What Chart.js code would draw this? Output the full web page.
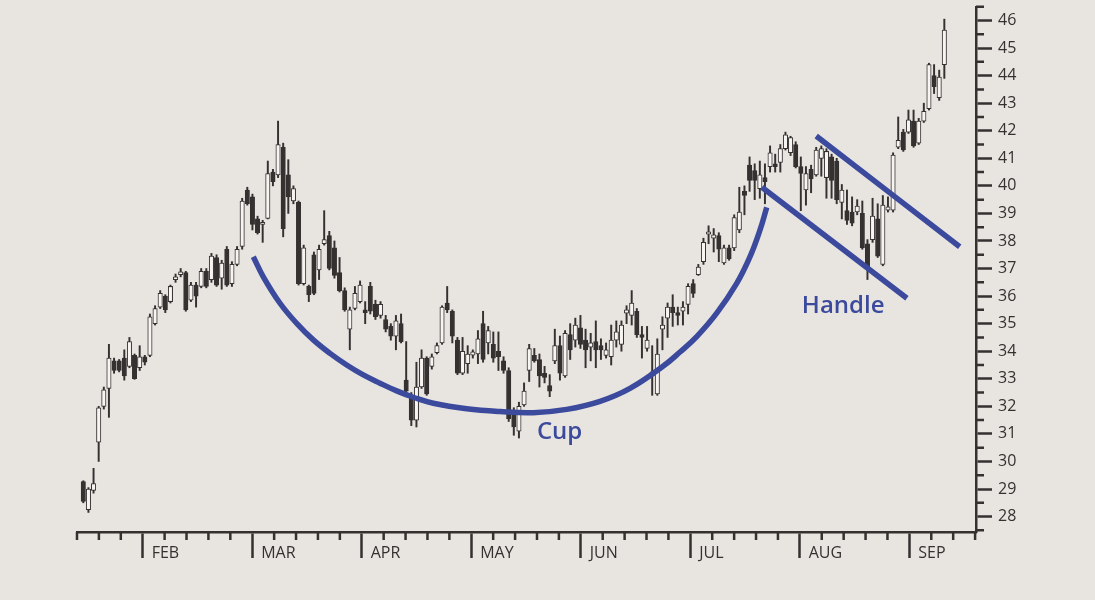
<!DOCTYPE html>
<html>
<head>
<meta charset="utf-8">
<title>Cup and Handle</title>
<script src="https://cdn.jsdelivr.net/npm/chart.js@4.4.1/dist/chart.umd.min.js"></script>
<style>
  html, body { margin: 0; padding: 0; background: #e8e4e0; }
  #wrap { position: relative; width: 1095px; height: 600px; }
</style>
</head>
<body>
<div id="wrap"><canvas id="chart"></canvas></div>
<script>
// daily sessions, index 0 = first candle on the chart
const opens = [
  29.27, 28.25, 28.95, 30.7, 32.0, 32.65, 33.65, 33.65, 33.75, 33.45,
  33.85, 33.4, 33.8, 33.85, 35.0, 35.6, 36.0, 35.8, 36.6, 36.78,
  36.85, 35.85, 36.4, 36.35, 36.9, 36.6, 37.4, 36.65, 37.7, 36.45,
  37.15, 37.8, 39.85, 39.6, 38.8, 38.6, 38.82, 40.5, 40.4, 41.4,
  40.4, 39.45, 39.4, 36.45, 36.35, 37.5, 36.95, 37.9, 38.2, 37.75,
  36.85, 36.2, 34.8, 35.55, 35.8, 35.5, 36.35, 35.7, 35.3, 35.15,
  34.9, 34.55, 35.0, 32.95, 32.35, 31.5, 32.7, 33.75, 33.45, 33.95,
  34.3, 35.75, 35.45, 34.4, 33.2, 33.55, 33.86, 33.9, 35.0, 34.3,
  34.25, 34.0, 33.65, 33.3, 31.8, 31.1, 32.05, 33.3, 33.85, 33.7,
  33.2, 32.75, 33.65, 34.2, 33.1, 34.6, 34.4, 34.85, 34.4, 34.15,
  34.35, 34.2, 33.85, 33.8, 34.4, 34.25, 35.38, 35.3, 35.45, 34.6,
  34.1, 33.25, 32.45, 34.8, 35.2, 35.6, 35.4, 35.45, 35.7, 36.45,
  36.78, 37.25, 38.25, 38.1, 38.2, 37.2, 37.75, 37.75, 38.4, 39.8,
  40.75, 40.55, 39.9, 40.3, 40.7, 40.8, 40.85, 41.35, 41.2, 41.5,
  40.7, 39.85, 40.6, 40.4, 41.0, 40.3, 41.05, 40.9, 39.4, 39.1,
  39.05, 39.05, 39.0, 37.9, 38.05, 38.8, 37.15, 39.12, 39.12, 41.4,
  41.95, 41.95, 42.35, 41.55, 42.35, 42.8, 44.0, 43.2, 44.4
];
const highs = [
  29.3, 29.05, 29.75, 32.0, 32.7, 34.25, 33.75, 33.7, 34.05, 34.5,
  33.9, 34.2, 33.85, 35.35, 35.65, 36.2, 36.05, 36.4, 36.8, 37.0,
  36.9, 36.5, 36.5, 37.0, 37.0, 37.55, 37.5, 37.3, 37.8, 37.25,
  37.8, 39.55, 39.95, 39.7, 38.9, 38.75, 40.9, 40.6, 42.35, 41.55,
  40.95, 40.0, 39.45, 37.85, 36.4, 37.6, 37.85, 39.1, 38.35, 38.0,
  37.4, 36.3, 35.6, 36.35, 36.55, 35.8, 36.5, 35.85, 35.8, 35.3,
  35.0, 35.3, 35.35, 34.35, 32.5, 33.6, 34.05, 33.8, 33.9, 34.3,
  35.65, 36.35, 35.5, 34.5, 34.5, 34.2, 34.05, 34.75, 35.45, 34.9,
  34.7, 34.7, 33.8, 33.4, 31.95, 32.15, 32.85, 34.25, 34.1, 33.9,
  33.45, 33.15, 34.8, 34.55, 34.75, 35.0, 35.2, 35.3, 34.8, 34.65,
  35.1, 34.45, 34.3, 34.95, 35.1, 35.1, 35.65, 36.2, 35.55, 34.9,
  34.9, 34.2, 34.45, 35.25, 35.75, 36.05, 35.6, 35.8, 36.45, 36.6,
  37.15, 38.1, 38.55, 38.45, 38.3, 37.85, 37.85, 38.95, 39.95, 40.0,
  41.05, 40.8, 40.9, 40.8, 41.45, 41.15, 41.5, 41.95, 41.8, 41.6,
  41.05, 40.7, 40.75, 41.4, 41.45, 41.35, 41.15, 41.0, 40.05, 39.85,
  39.6, 39.5, 39.45, 38.05, 39.55, 39.35, 39.65, 39.6, 41.2, 42.5,
  42.05, 42.75, 42.75, 42.45, 43.0, 44.45, 44.4, 44.2, 46.05
];
const lows = [
  28.5, 28.15, 28.85, 30.0, 31.9, 31.6, 33.2, 33.25, 32.95, 33.4,
  32.98, 33.3, 33.5, 33.8, 34.95, 35.55, 35.4, 35.75, 36.5, 36.7,
  35.45, 35.8, 35.6, 36.3, 36.3, 36.5, 36.35, 36.25, 36.35, 36.35,
  37.1, 37.7, 39.3, 38.4, 38.25, 37.95, 38.8, 40.0, 40.3, 38.15,
  39.0, 39.35, 36.4, 36.4, 35.8, 36.05, 36.6, 37.85, 36.95, 36.65,
  36.15, 35.45, 34.05, 35.5, 35.75, 35.0, 35.35, 35.15, 35.2, 34.7,
  34.4, 34.05, 34.3, 32.45, 31.3, 31.25, 32.65, 32.4, 33.35, 33.9,
  34.25, 35.4, 34.3, 33.15, 33.15, 33.2, 33.75, 33.55, 33.6, 33.9,
  33.6, 33.3, 33.2, 31.45, 30.95, 30.85, 32.0, 32.9, 33.6, 32.7,
  32.85, 32.35, 33.55, 32.95, 33.05, 33.7, 34.15, 34.1, 33.4, 33.65,
  33.4, 33.7, 33.75, 33.5, 34.15, 34.0, 35.0, 34.95, 34.5, 33.75,
  34.0, 32.4, 32.4, 34.05, 34.5, 34.9, 34.95, 34.95, 35.35, 35.95,
  36.75, 37.15, 37.9, 37.6, 37.25, 37.15, 37.3, 37.65, 38.3, 38.95,
  39.8, 39.5, 39.55, 39.35, 40.5, 40.5, 40.5, 41.3, 41.1, 40.65,
  39.1, 39.3, 39.75, 40.35, 40.35, 39.55, 39.55, 39.35, 38.8, 38.6,
  38.55, 38.95, 37.7, 36.6, 37.95, 37.4, 37.1, 39.05, 39.05, 41.35,
  41.25, 41.9, 41.4, 41.5, 42.3, 42.75, 43.35, 43.1, 43.9
];
const closes = [
  28.55, 29.0, 29.2, 31.95, 32.6, 33.75, 33.3, 33.3, 33.1, 34.35,
  33.0, 33.8, 33.6, 35.25, 35.55, 36.1, 35.5, 36.35, 36.7, 36.88,
  35.5, 36.4, 36.0, 36.9, 36.35, 37.45, 36.4, 37.2, 36.4, 37.15,
  37.7, 39.45, 39.35, 38.6, 38.3, 38.65, 40.45, 40.15, 41.5, 38.45,
  39.6, 39.9, 36.45, 37.75, 36.05, 36.1, 37.7, 38.05, 37.0, 36.75,
  36.2, 35.5, 35.5, 36.1, 36.4, 35.4, 35.45, 35.25, 35.7, 34.8,
  34.55, 35.1, 34.35, 32.55, 31.5, 32.7, 33.75, 32.45, 33.8, 34.2,
  35.6, 35.5, 34.55, 33.2, 34.0, 33.9, 33.98, 34.45, 33.7, 34.75,
  33.75, 33.8, 33.3, 31.55, 31.25, 32.0, 32.55, 34.1, 33.65, 33.1,
  33.05, 32.55, 34.2, 33.2, 34.65, 34.05, 34.95, 34.25, 34.05, 34.3,
  34.05, 34.05, 34.05, 34.4, 34.7, 34.95, 35.5, 35.75, 34.6, 34.5,
  34.4, 33.1, 33.9, 34.95, 35.6, 35.4, 35.3, 35.6, 36.35, 36.1,
  37.05, 37.95, 38.33, 38.22, 37.7, 37.75, 37.35, 38.85, 39.05, 39.65,
  40.2, 40.2, 40.4, 40.15, 41.2, 40.7, 41.35, 41.85, 41.75, 40.7,
  40.45, 40.45, 40.25, 41.3, 41.35, 41.25, 40.2, 39.5, 39.85, 38.75,
  38.65, 39.27, 37.75, 37.0, 38.9, 37.45, 39.3, 39.24, 41.12, 41.65,
  41.3, 42.4, 41.45, 42.35, 42.7, 44.4, 43.6, 43.95, 45.65
];

// x axis: month labels and the session index where each month starts
const months = ['FEB', 'MAR', 'APR', 'MAY', 'JUN', 'JUL', 'AUG', 'SEP'];
const monthStart = [11.59, 32.96, 54.32, 75.69, 97.06, 118.42, 139.79, 161.15];
const priceTicks = [28, 29, 30, 31, 32, 33, 34, 35, 36, 37, 38, 39, 40, 41, 42, 43, 44, 45, 46];

// pattern outlines (session index, price)
const cupX = [
  33.17, 35.12, 38.38, 41.64, 44.88, 48.14, 51.39, 54.63, 57.89, 61.15, 64.39, 68.29, 74.81,
  81.31, 87.8, 94.32, 100.82, 106.67, 113.17, 116.43, 119.69, 123.59, 127.49, 130.09, 132.04, 133.35
];
const cupY = [
  37.43, 36.7, 35.74, 35.01, 34.41, 33.92, 33.5, 33.14, 32.84, 32.56, 32.33, 32.11, 31.91,
  31.81, 31.77, 31.89, 32.18, 32.65, 33.46, 33.97, 34.53, 35.38, 36.46, 37.43, 38.4, 39.22
];
const handleTopX = [143.0, 171.0];
const handleTopY = [41.81, 37.79];
const handleLowX = [132.4, 160.7];
const handleLowY = [39.95, 35.92];

const ink = '#353131';
const blue = '#3b4a9c';
const axisFont = { family: '"Open Sans", "Noto Sans", sans-serif', size: 16, weight: '500' };

const idx = opens.map((_, i) => i);
const wicks = idx.map(i => ({ x: i, y: [lows[i], highs[i]] }));
const bodies = idx.map(i => ({ x: i, y: [opens[i], closes[i]] }));
const pts = (xs, ys) => xs.map((x, i) => ({ x: x, y: ys[i] }));

// labels placed on the chart, anchored in data units (left edge, baseline)
const notes = [
    { text: 'Cup', x: 88.5, y: 30.8 },
    { text: 'Handle', x: 140.2, y: 35.39 }
];

// short week ticks on x and half-point ticks on y
const minorTicks = {
    id: 'minorTicks',
    afterDraw(chart) {
        const { ctx, scales: { x, y } } = chart;
        const wk = (monthStart[1] - monthStart[0]) / 5;
        ctx.save();
        ctx.strokeStyle = ink;
        ctx.lineWidth = 2.5;
        ctx.beginPath();
        for (let k = -3; k <= (months.length - 1) * 5 + 3; k++) {
            if (k >= 0 && k % 5 === 0) continue;
            const px = x.getPixelForValue(monthStart[0] + k * wk);
            ctx.moveTo(px, y.bottom);
            ctx.lineTo(px, y.bottom + 8);
        }
        for (let v = priceTicks[0] - 0.5; v <= priceTicks[priceTicks.length - 1] + 0.5; v += 1) {
            const py = y.getPixelForValue(v);
            ctx.moveTo(x.right, py);
            ctx.lineTo(x.right + 8, py);
        }
        ctx.stroke();
        ctx.restore();
    }
};

const noteLabels = {
    id: 'noteLabels',
    afterDatasetsDraw(chart) {
        const { ctx, scales: { x, y } } = chart;
        ctx.save();
        ctx.fillStyle = blue;
        ctx.font = '600 24px "Open Sans", "Noto Sans", sans-serif';
        ctx.textBaseline = 'alphabetic';
        notes.forEach(n => ctx.fillText(n.text, x.getPixelForValue(n.x), y.getPixelForValue(n.y)));
        ctx.restore();
    }
};

function outline(data, label) {
    return {
        type: 'line', label: label, data: data,
        borderColor: blue, borderWidth: 5.5, borderCapStyle: 'butt',
        pointRadius: 0, fill: false, tension: 0.4, order: 0
    };
}

new Chart(document.getElementById('chart'), {
    type: 'bar',
    data: {
        datasets: [
            {
                label: 'range', data: wicks, grouped: false, order: 3,
                barThickness: 1.3, backgroundColor: ink, borderWidth: 0
            },
            {
                label: 'body', data: bodies, grouped: false, order: 2,
                barThickness: 4.4, minBarLength: 2,
                backgroundColor: c => closes[c.dataIndex] < opens[c.dataIndex] ? ink : '#f7f5f2',
                borderColor: ink, borderWidth: 1, borderSkipped: false
            },
            outline(pts(cupX, cupY), 'cup'),
            outline(pts(handleTopX, handleTopY), 'handle top'),
            outline(pts(handleLowX, handleLowY), 'handle low')
        ]
    },
    options: {
        responsive: true,
        maintainAspectRatio: false,
        animation: false,
        layout: { padding: { left: 77, top: 7, right: 0, bottom: 0 } },
        plugins: { legend: { display: false }, tooltip: { enabled: false } },
        scales: {
            x: {
                type: 'linear', min: -1.23, max: 174.18, offset: false,
                afterBuildTicks: s => { s.ticks = monthStart.map(v => ({ value: v })); },
                afterFit: s => { s.height = 68; s.paddingLeft = 0; s.paddingRight = 0; },
                grid: { drawOnChartArea: false, offset: false, tickLength: 26, tickWidth: 2.5, tickColor: ink },
                border: { color: ink, width: 2.5 },
                ticks: {
                    autoSkip: false, maxRotation: 0, align: 'start', labelOffset: 9, padding: -14,
                    color: ink, font: axisFont,
                    callback: (v, i) => months[i]
                }
            },
            y: {
                type: 'linear', position: 'right', min: 27.44, max: 46.49, beginAtZero: false,
                afterBuildTicks: s => { s.ticks = priceTicks.map(v => ({ value: v })); },
                afterFit: s => { s.width = 119; s.paddingTop = 0; s.paddingBottom = 0; },
                grid: { drawOnChartArea: false, tickLength: 16, tickWidth: 2.5, tickColor: ink },
                border: { color: ink, width: 2.5 },
                ticks: { padding: 6, color: ink, font: axisFont }
            }
        }
    },
    plugins: [minorTicks, noteLabels]
});
</script>
</body>
</html>
